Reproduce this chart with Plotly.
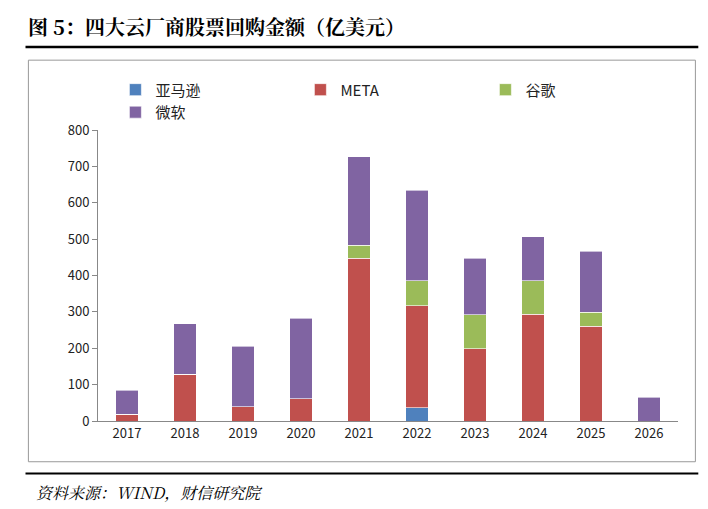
import plotly.graph_objects as go

years = ["2017","2018","2019","2020","2021","2022","2023","2024","2025","2026"]
amazon = [0,0,0,0,0,37,0,0,0,0]
meta = [18,128,39,61,448,280,198,294,261,0]
google = [0,0,0,0,35,68,94,92,38,0]
msft = [66,140,167,222,244,250,156,120,167,65]

names = ["亚马逊","META","谷歌","微软"]
colors = ["#4F81BD","#C0504D","#9BBB59","#8064A2"]
fig = go.Figure()
for n, v, c in zip(names, [amazon, meta, google, msft], colors):
    fig.add_bar(x=years, y=v, name=n, marker=dict(color=c, line=dict(color="white", width=0.6)), width=0.38)

fig.update_layout(
    barmode="stack", width=708, height=509, plot_bgcolor="white", paper_bgcolor="white",
    font=dict(family="Noto Sans CJK SC, Arial", size=13, color="#222"),
    margin=dict(l=90, r=38, t=122, b=96, autoexpand=False),
    legend=dict(orientation="h", x=0.03, y=1.1, xanchor="left", yanchor="middle",
                font=dict(size=15), itemwidth=30, entrywidth=140, traceorder="normal"),
    yaxis=dict(range=[0,800], dtick=100, showgrid=False, showline=True, linecolor="#888",
               ticks="outside", ticklen=5, tickcolor="#888", zeroline=False),
    xaxis=dict(showline=True, linecolor="#888", ticks="", tickfont=dict(size=13)),
    shapes=[
        dict(type="line", xref="paper", yref="paper", x0=-0.125, x1=1.035, y0=1.285, y1=1.285, line=dict(color="black", width=2.5)),
        dict(type="line", xref="paper", yref="paper", x0=-0.125, x1=1.035, y0=-0.18, y1=-0.18, line=dict(color="black", width=2)),
        dict(type="rect", xref="paper", yref="paper", x0=-0.12, x1=1.03, y0=-0.14, y1=1.24, line=dict(color="#999", width=1)),
    ],
    annotations=[
        dict(text="<b>图 5：四大云厂商股票回购金额（亿美元）</b>", xref="paper", yref="paper", x=-0.125, y=1.3,
             xanchor="left", yanchor="bottom", showarrow=False, font=dict(size=20, family="Noto Serif CJK SC, Noto Sans CJK SC", color="black")),
        dict(text="<i>资料来源：WIND，财信研究院</i>", xref="paper", yref="paper", x=-0.11, y=-0.2,
             xanchor="left", yanchor="top", showarrow=False, font=dict(size=16, family="Noto Serif CJK SC, Noto Sans CJK SC", color="black")),
    ],
)
fig.write_html("out.html")
